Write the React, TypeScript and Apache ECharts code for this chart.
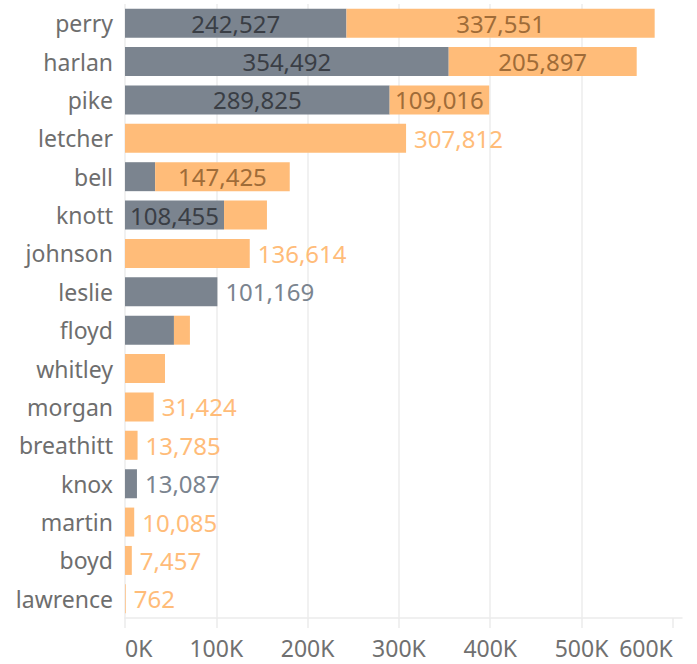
import React, { useEffect, useRef } from "react";
import * as echarts from "echarts";

const categories = ["perry", "harlan", "pike", "letcher", "bell", "knott", "johnson", "leslie", "floyd", "whitley", "morgan", "breathitt", "knox", "martin", "boyd", "lawrence"];
const grayValues: (number | null)[] = [242527, 354492, 289825, null, 33000, 108455, null, 101169, 53600, null, null, null, 13087, null, null, null];
const orangeValues: (number | null)[] = [337551, 205897, 109016, 307812, 147425, 47000, 136614, null, 17500, 43800, 31424, 13785, null, 10085, 7457, 762];
const tickValues = [0, 100000, 200000, 300000, 400000, 500000, 600000];
const unlabeled = ["whitley"];

const GRAY = "#7b848f";
const ORANGE = "#ffbc79";
const GRAY_IN = "#3a3e45";
const ORANGE_IN = "#a06c38";
const FONT = "'Noto Sans', 'Open Sans', sans-serif";
const INSIDE_MIN = 100000;

const fmt = (v: number) => v.toLocaleString("en-US");

function buildData(values: (number | null)[], other: (number | null)[], color: string, inColor: string) {
  return values.map((v, i) => {
    if (v == null) return null;
    const stacked = other[i] != null;
    let label: any;
    if (stacked) {
      label = v >= INSIDE_MIN
        ? { show: true, position: "inside", color: inColor }
        : { show: false };
    } else {
      label = unlabeled.includes(categories[i])
        ? { show: false }
        : { show: true, position: "right", distance: 8, color };
    }
    return { value: v, label };
  });
}

export default function App() {
  const ref = useRef<HTMLDivElement>(null);
  useEffect(() => {
    document.body.style.margin = "0";
    const chart = echarts.init(ref.current!, null, { renderer: "svg" });
    const labelBase = {
      fontFamily: FONT,
      fontSize: 24,
      formatter: (p: any) => fmt(p.value),
    };
    chart.setOption({
      animation: false,
      grid: { left: 125, right: 15, top: 4, bottom: 46, containLabel: false, outerBoundsMode: "none" },
      xAxis: {
        type: "value",
        min: 0,
        max: 610000,
        interval: 100000,
        axisLine: { show: true, lineStyle: { color: "#ebebeb", width: 1.5 } },
        axisTick: { show: true, length: 10, lineStyle: { color: "#ebebeb", width: 1.5 }, customValues: tickValues },
        splitLine: { show: true, showMaxLine: false, lineStyle: { color: "#ededed", width: 1.5 } },
        axisLabel: {
          customValues: tickValues,
          color: "#707070",
          fontFamily: FONT,
          fontSize: 23,
          margin: 18,
          alignMinLabel: "left",
          alignMaxLabel: "right",
          formatter: (v: number) => `${Math.round(v / 1000)}K`,
        },
      },
      yAxis: {
        type: "category",
        data: categories,
        inverse: true,
        axisLine: { show: false },
        axisTick: { show: false },
        axisLabel: { color: "#6e6e6e", fontFamily: FONT, fontSize: 23, margin: 12 },
      },
      series: [
        {
          type: "bar",
          stack: "total",
          barCategoryGap: "24.5%",
          itemStyle: { color: GRAY },
          label: { ...labelBase },
          data: buildData(grayValues, orangeValues, GRAY, GRAY_IN),
        },
        {
          type: "bar",
          stack: "total",
          barCategoryGap: "24.5%",
          itemStyle: { color: ORANGE },
          label: { ...labelBase },
          data: buildData(orangeValues, grayValues, ORANGE, ORANGE_IN),
        },
      ],
    });
    return () => chart.dispose();
  }, []);
  return <div ref={ref} style={{ width: 697, height: 664 }} />;
}
